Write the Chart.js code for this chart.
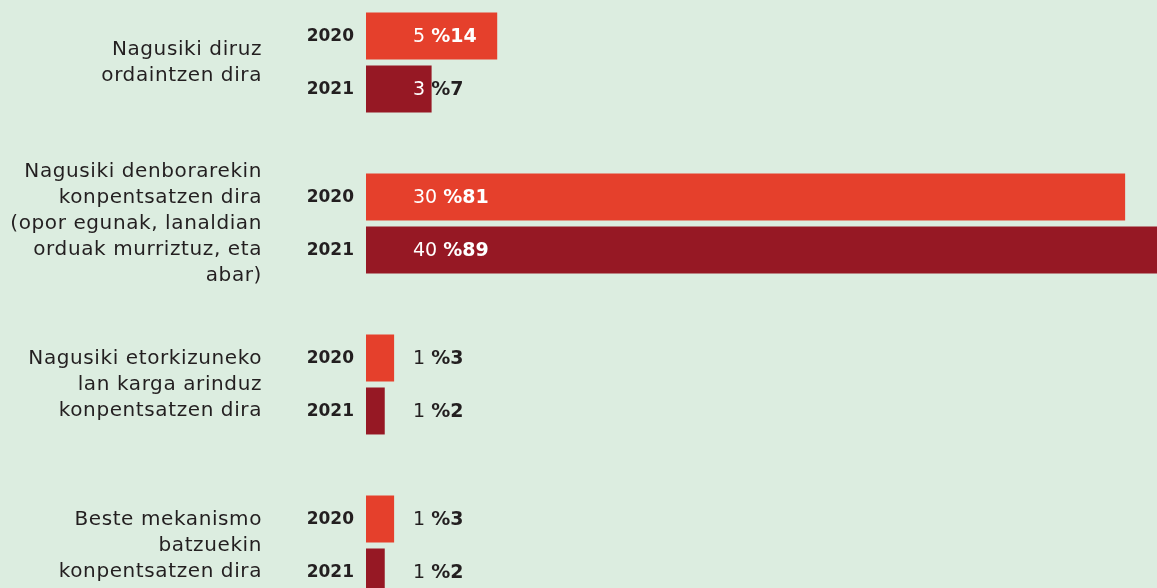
<!DOCTYPE html>
<html lang="eu">
<head>
  <meta charset="UTF-8">
  <title>Konpentsazio mekanismoak</title>
  <script src="https://cdn.jsdelivr.net/npm/chart.js"></script>
  <style>
    html, body {
      margin: 0;
      padding: 0;
      width: 1157px;
      height: 588px;
      overflow: hidden;
      background: #dcede0;
    }
    /* chart box runs a little past the top and bottom so the groups sit evenly */
    .chart-box {
      position: absolute;
      left: 0;
      top: -18px;
      width: 1157px;
      height: 644px;
    }
  </style>
</head>
<body>
  <div class="chart-box">
    <canvas id="mechChart"></canvas>
  </div>

  <script>
    // categories (one line per array entry)
    const categories = [
      ['Nagusiki diruz', 'ordaintzen dira'],
      ['Nagusiki denborarekin', 'konpentsatzen dira', '(opor egunak, lanaldian', 'orduak murriztuz, eta', 'abar)'],
      ['Nagusiki etorkizuneko', 'lan karga arinduz', 'konpentsatzen dira'],
      ['Beste mekanismo', 'batzuekin', 'konpentsatzen dira']
    ];
    const years = ['2020', '2021'];

    // number of answers and share (%) per year
    const count2020 = [5, 30, 1, 1];
    const pct2020 = [14, 81, 3, 3];
    const count2021 = [3, 40, 1, 1];
    const pct2021 = [7, 89, 2, 2];

    const counts = [count2020, count2021];
    const FONT = '"DejaVu Sans", "Open Sans", sans-serif';
    const TEXT = '#231f20';

    function drawValue(ctx, numTxt, pctTxt, x, y, w1) {
      ctx.font = '19px ' + FONT;
      ctx.fillText(numTxt, x, y);
      ctx.font = 'bold 19px ' + FONT;
      ctx.fillText(pctTxt, x + w1, y);
    }

    // category text, year tags and value labels
    const labelPlugin = {
      id: 'labelPlugin',
      afterDatasetsDraw(chart) {
        const ctx = chart.ctx;
        const yScale = chart.scales.y;
        ctx.save();

        // category names, right aligned to the left of the year tags
        ctx.font = '20px ' + FONT;
        ctx.letterSpacing = '0.6px';
        ctx.fillStyle = TEXT;
        ctx.textAlign = 'right';
        ctx.textBaseline = 'middle';
        const lineH = 26;
        categories.forEach((lines, i) => {
          const cy = yScale.getPixelForValue(i);
          const y0 = cy - (lines.length - 1) * lineH / 2;
          lines.forEach((ln, j) => ctx.fillText(ln, 262, y0 + j * lineH));
        });
        ctx.letterSpacing = '0px';

        chart.data.datasets.forEach((ds, di) => {
          const meta = chart.getDatasetMeta(di);
          meta.data.forEach((bar, i) => {
            // year tag
            ctx.font = 'bold 17px ' + FONT;
            ctx.fillStyle = TEXT;
            ctx.textAlign = 'right';
            ctx.fillText(years[di], bar.base - 12, bar.y + 1);

            // value label: count (regular) + %share (bold)
            const numTxt = counts[di][i] + ' ';
            const pctTxt = '%' + ds.data[i];
            const lx = bar.base + 47;
            const ly = bar.y + 1;
            ctx.textAlign = 'left';
            ctx.font = '19px ' + FONT;
            const w1 = ctx.measureText(numTxt).width;

            // dark where the text is off the bar, white where it sits on it
            ctx.save();
            ctx.beginPath();
            ctx.rect(bar.x, bar.y - bar.height, chart.width - bar.x, bar.height * 2);
            ctx.clip();
            ctx.fillStyle = TEXT;
            drawValue(ctx, numTxt, pctTxt, lx, ly, w1);
            ctx.restore();

            ctx.save();
            ctx.beginPath();
            ctx.rect(bar.base, bar.y - bar.height, bar.x - bar.base, bar.height * 2);
            ctx.clip();
            ctx.fillStyle = '#ffffff';
            drawValue(ctx, numTxt, pctTxt, lx, ly, w1);
            ctx.restore();
          });
        });
        ctx.restore();
      }
    };

    const chart = new Chart(document.getElementById('mechChart'), {
      type: 'bar',
      data: {
        labels: categories.map(c => c.join(' ')),
        datasets: [
          {
            label: years[0],
            data: pct2020,
            backgroundColor: '#e5402c',
            categoryPercentage: 0.658,
            barPercentage: 0.887
          },
          {
            label: years[1],
            data: pct2021,
            backgroundColor: '#961824',
            categoryPercentage: 0.658,
            barPercentage: 0.887
          }
        ]
      },
      options: {
        indexAxis: 'y',
        responsive: true,
        maintainAspectRatio: false,
        animation: false,
        layout: { padding: { left: 366, right: 0, top: 0, bottom: 0 } },
        plugins: {
          legend: { display: false },
          tooltip: { enabled: false }
        },
        scales: {
          x: { display: false, min: 0, max: 84.4 },
          y: { display: false }
        }
      },
      plugins: [labelPlugin]
    });
  </script>
</body>
</html>
